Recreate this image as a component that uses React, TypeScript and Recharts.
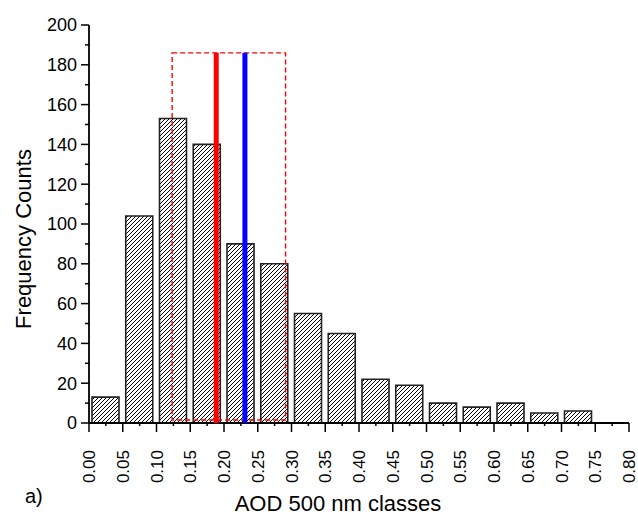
import {
  ComposedChart,
  Bar,
  XAxis,
  YAxis,
  ReferenceArea,
  ReferenceLine,
} from 'recharts';

// histogram bins (class centres) and counts
const binCenters = [0.025, 0.075, 0.125, 0.175, 0.225, 0.275, 0.325, 0.375, 0.425, 0.475, 0.525, 0.575, 0.625, 0.675, 0.725];
const counts = [13, 104, 153, 140, 90, 80, 55, 45, 22, 19, 10, 8, 10, 5, 6];

// axis ticks
const xTickLabels = ['0.00', '0.05', '0.10', '0.15', '0.20', '0.25', '0.30', '0.35', '0.40', '0.45', '0.50', '0.55', '0.60', '0.65', '0.70', '0.75', '0.80'];
const xMinorTicks = [0.025, 0.075, 0.125, 0.175, 0.225, 0.275, 0.325, 0.375, 0.425, 0.475, 0.525, 0.575, 0.625, 0.675, 0.725, 0.775];
const yTicks = [0, 20, 40, 60, 80, 100, 120, 140, 160, 180, 200];
const yMinorTicks = [10, 30, 50, 70, 90, 110, 130, 150, 170, 190];

// marked values: red / blue lines and the dashed box
const redLineX = 0.1885;
const blueLineX = 0.231;
const boxX = [0.1232, 0.2912];
const boxY = [1.5, 186];

const data = binCenters.map((x, i) => ({x, count: counts[i]}));
const xMajor = xTickLabels.map(Number);
const xTicks = [...xMajor, ...xMinorTicks].sort((a, b) => a - b);
const yAll = [...yTicks, ...yMinorTicks].sort((a, b) => a - b);

const FONT = '"Liberation Sans", Arial, sans-serif';

const XTick = (props: any) => {
  const {x, y, payload} = props;
  const label = xTickLabels.find((l) => Math.abs(Number(l) - payload.value) < 1e-6);
  return (
    <g>
      <line x1={x} x2={x} y1={y} y2={y + (label ? 9 : 3)} stroke="#000" strokeWidth={1.5}/>
      {label && (
        <text
          transform={`translate(${x},${y + 27}) rotate(-90)`}
          textAnchor="end"
          dy="0.36em"
          fontSize={17}
          fontFamily={FONT}
          fill="#000"
        >
          {label}
        </text>
      )}
    </g>
  );
};

const YTick = (props: any) => {
  const {x, y, payload} = props;
  const major = yTicks.includes(payload.value);
  return (
    <g>
      <line x1={x} x2={x - (major ? 8 : 4)} y1={y} y2={y} stroke="#000" strokeWidth={1.5}/>
      {major && (
        <text x={x - 12} y={y} dy="0.36em" textAnchor="end" fontSize={18} fontFamily={FONT} fill="#000">
          {payload.value}
        </text>
      )}
    </g>
  );
};

const App = () => {
  return (
    <div style={{position: 'absolute', left: 0, top: 0, background: '#fff'}}>
      <ComposedChart
        width={638}
        height={515}
        data={data}
        margin={{top: 25, right: 9, bottom: 22, left: 29}}
      >
        <defs>
          <pattern id="hatch" patternUnits="userSpaceOnUse" width={4} height={4}>
            <rect width={4} height={4} fill="#fff"/>
            <path d="M-1,1 l2,-2 M0,4 l4,-4 M3,5 l2,-2" stroke="#000" strokeWidth={1}/>
          </pattern>
        </defs>
        <XAxis
          dataKey="x"
          type="number"
          domain={[0, 0.8]}
          ticks={xTicks}
          interval={0}
          allowDataOverflow
          height={70}
          tickSize={0}
          tickMargin={0}
          tickLine={false}
          tick={<XTick/>}
          axisLine={{stroke: '#000', strokeWidth: 1.8}}
          label={{
            content: () => (
              <g fontFamily={FONT} fill="#000">
                <text x={338} y={511} textAnchor="middle" fontSize={22}>AOD 500 nm classes</text>
                <text x={25} y={503} fontSize={20}>a)</text>
              </g>
            ),
          }}
        />
        <YAxis
          type="number"
          domain={[0, 200]}
          ticks={yAll}
          interval={0}
          width={60}
          tickSize={0}
          tickMargin={0}
          tickLine={false}
          tick={<YTick/>}
          axisLine={{stroke: '#000', strokeWidth: 1.8}}
          label={{
            content: () => (
              <text
                transform="translate(23,239) rotate(-90)"
                textAnchor="middle"
                dy="0.36em"
                fontSize={22}
                fontFamily={FONT}
                fill="#000"
              >
                Frequency Counts
              </text>
            ),
          }}
        />
        <Bar
          dataKey="count"
          barSize={27}
          fill="url(#hatch)"
          stroke="#222"
          strokeWidth={1.6}
          isAnimationActive={false}
        />
        <ReferenceArea
          x1={boxX[0]}
          x2={boxX[1]}
          y1={boxY[0]}
          y2={boxY[1]}
          fill="none"
          fillOpacity={0}
          stroke="#ff0000"
          strokeWidth={1.4}
          strokeDasharray="5 3"
          zIndex={1000}
        />
        <ReferenceLine
          segment={[{x: redLineX, y: 0}, {x: redLineX, y: boxY[1]}]}
          stroke="#ff0000"
          strokeWidth={5}
          zIndex={1000}
        />
        <ReferenceLine
          segment={[{x: blueLineX, y: 0}, {x: blueLineX, y: boxY[1]}]}
          stroke="#0000ff"
          strokeWidth={5}
          zIndex={1000}
        />
      </ComposedChart>
    </div>
  );
};

export default App;
